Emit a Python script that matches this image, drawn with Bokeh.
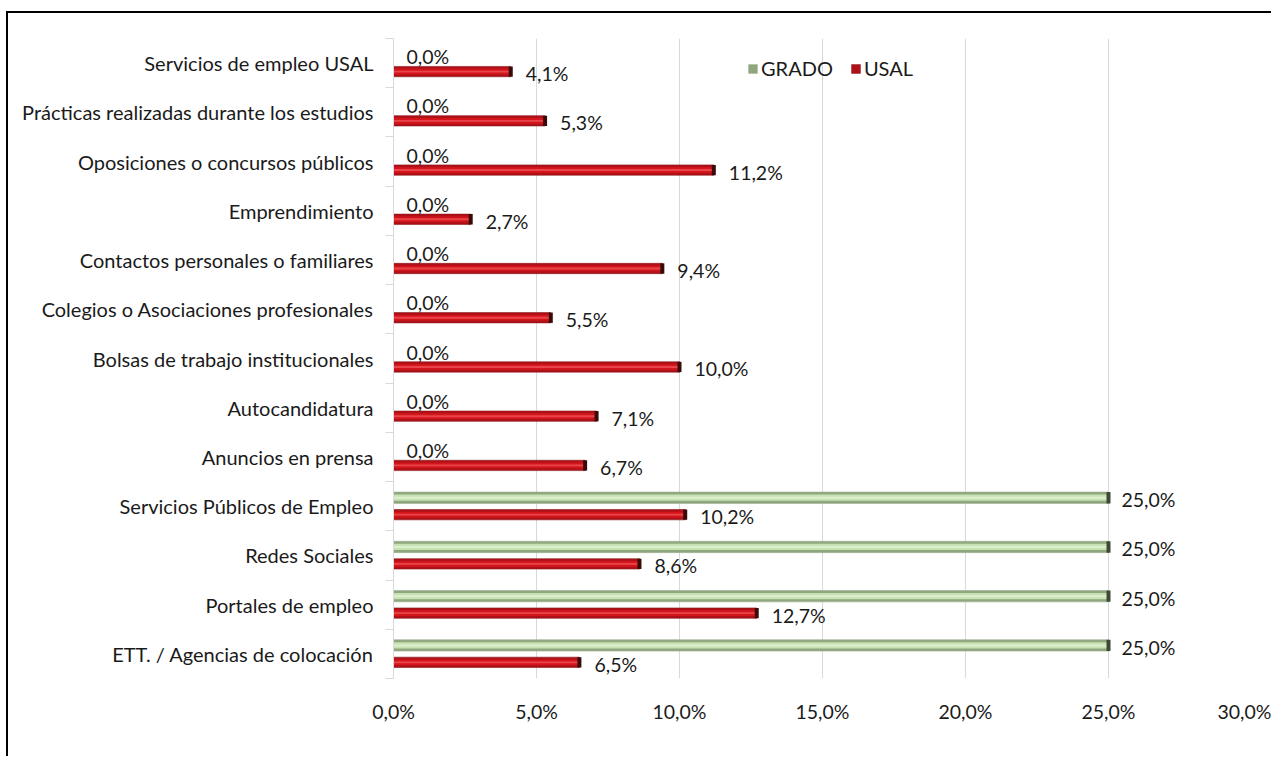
from bokeh.plotting import figure
from bokeh.models import (Range1d, FixedTicker, Legend, LegendItem, ColumnDataSource)
from bokeh.embed import file_html
from bokeh.resources import INLINE
from bokeh.core.properties import value

categories = [
    "Servicios de empleo USAL",
    "Prácticas realizadas durante los estudios",
    "Oposiciones o concursos públicos",
    "Emprendimiento",
    "Contactos personales o familiares",
    "Colegios o Asociaciones profesionales",
    "Bolsas de trabajo institucionales",
    "Autocandidatura",
    "Anuncios en prensa",
    "Servicios Públicos de Empleo",
    "Redes Sociales",
    "Portales de empleo",
    "ETT. / Agencias de colocación",
]
usal = [4.1, 5.3, 11.2, 2.7, 9.4, 5.5, 10.0, 7.1, 6.7, 10.2, 8.6, 12.7, 6.5]
grado = [0.0, 0.0, 0.0, 0.0, 0.0, 0.0, 0.0, 0.0, 0.0, 25.0, 25.0, 25.0, 25.0]
x_ticks = [0, 5, 10, 15, 20, 25, 30]
x_tick_labels = ["0,0%", "5,0%", "10,0%", "15,0%", "20,0%", "25,0%", "30,0%"]

FONT = "Lato"
FS = "19.5px"
FS_CAT = "20px"
TXT = "#1a1a1a"
n = len(categories)
ypos = [n - 1 - k for k in range(n)]
off = 0.172
bh = 0.21


def fmt(v):
    return f"{v:.1f}".replace(".", ",") + "%"


p = figure(
    frame_width=858, frame_height=640,
    min_border_left=385, min_border_top=25, min_border_right=20, min_border_bottom=78,
    x_range=Range1d(0, 30), y_range=Range1d(-0.5, n - 0.5),
    output_backend="svg", toolbar_location=None,
)
# outer chart frame: left and top edges (right/bottom lie beyond the picture)
p.styles = {"border-left": "2px solid black", "border-top": "2px solid black",
            "margin-left": "6px", "margin-top": "11px"}
p.outline_line_color = None
p.background_fill_color = "white"

# grid
p.xgrid.ticker = FixedTicker(ticks=x_ticks)
p.xgrid.grid_line_color = "#D9D9D9"
p.xgrid.grid_line_width = 1
p.ygrid.grid_line_color = None

# x axis
p.xaxis.ticker = FixedTicker(ticks=x_ticks)
p.xaxis.major_label_overrides = {t: l for t, l in zip(x_ticks, x_tick_labels)}
p.xaxis.axis_line_color = None
p.xaxis.major_tick_line_color = None
p.xaxis.minor_tick_line_color = None
p.xaxis.major_label_standoff = 15
p.xaxis.major_label_text_font = FONT
p.xaxis.major_label_text_font_size = FS
p.xaxis.major_label_text_color = TXT

# y axis
p.yaxis.ticker = FixedTicker(ticks=ypos, minor_ticks=[k + 0.5 for k in range(-1, n)])
p.yaxis.major_label_overrides = {y: c for y, c in zip(ypos, categories)}
p.yaxis.axis_line_color = "#D9D9D9"
p.yaxis.major_tick_line_color = None
p.yaxis.major_tick_out = 0
p.yaxis.major_tick_in = 0
p.yaxis.minor_tick_line_color = "#D9D9D9"
p.yaxis.minor_tick_out = 8
p.yaxis.minor_tick_in = 0
p.yaxis.major_label_standoff = 12
p.yaxis.major_label_text_font = FONT
p.yaxis.major_label_text_font_size = FS_CAT
p.yaxis.major_label_text_color = TXT

# data sources
src = ColumnDataSource(dict(
    y_r=[y - off for y in ypos],
    y_g=[y + off for y in ypos],
    usal=usal, grado=grado,
    lab_u=[fmt(v) for v in usal],
    lab_g=[fmt(v) for v in grado],
))
gsel = [i for i, v in enumerate(grado) if v > 0]
gsrc = ColumnDataSource(dict(
    y=[ypos[i] + off for i in gsel],
    v=[grado[i] for i in gsel],
))

# red (USAL) bars with pseudo 3D shading
r_usal = p.hbar(y="y_r", left=0, right="usal", height=bh, source=src,
                fill_color="#B01018", line_color="#8A1A1A", line_width=0.6)
p.hbar(y="y_r", left=0, right="usal", height=bh * 0.55, source=src,
       fill_color="#D4161C", line_color=None)
p.hbar(y="y_r", left=0, right="usal", height=bh * 0.18, source=src,
       fill_color="#E8464A", line_color=None)
p.rect(x="usal", y="y_r", width=4, width_units="screen", height=bh, source=src,
       fill_color="#3A0A0A", line_color=None)

# green (GRADO) bars
r_grado = p.hbar(y="y", left=0, right="v", height=bh * 1.1, source=gsrc,
                 fill_color="#8FA67F", line_color="#9DB08F", line_width=0.6)
p.hbar(y="y", left=0, right="v", height=bh * 0.6, source=gsrc,
       fill_color="#C7E2B1", line_color=None)
p.hbar(y="y", left=0, right="v", height=bh * 0.2, source=gsrc,
       fill_color="#DDEFCF", line_color=None)
p.rect(x="v", y="y", width=4, width_units="screen", height=bh * 1.1, source=gsrc,
       fill_color="#3E4A36", line_color=None)

# value labels
p.text(x="usal", y="y_r", text="lab_u", source=src, x_offset=15, y_offset=2,
       text_font=value(FONT), text_font_size=FS, text_color=TXT,
       text_baseline="middle", text_align="left")
p.text(x="grado", y="y_g", text="lab_g", source=src, x_offset=13, y_offset=2,
       text_font=value(FONT), text_font_size=FS, text_color=TXT,
       text_baseline="middle", text_align="left")

# legend
legend = Legend(items=[LegendItem(label="GRADO", renderers=[r_grado]),
                       LegendItem(label="USAL", renderers=[r_usal])],
                orientation="horizontal", location=(354, 598),
                glyph_width=11, glyph_height=11, label_standoff=3, spacing=17,
                padding=0, margin=0, border_line_color=None,
                background_fill_alpha=0,
                label_text_font=FONT, label_text_font_size=FS_CAT, label_text_color=TXT,
                label_height=20)
p.add_layout(legend, "center")

open("out.html", "w").write(file_html(p, INLINE))
